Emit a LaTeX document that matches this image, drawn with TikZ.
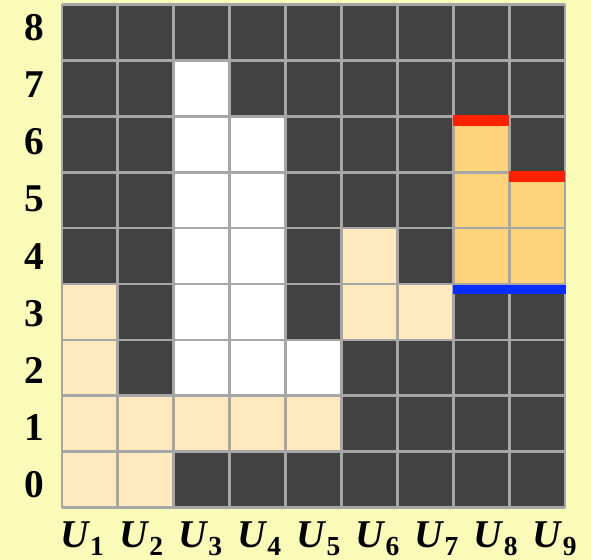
\documentclass[tikz,border=0pt]{standalone}
\usepackage{fontspec}
\setmainfont{Liberation Serif}
\definecolor{bgyellow}{HTML}{FAFAB9}
\definecolor{cellgray}{HTML}{424242}
\definecolor{gridline}{HTML}{A6A6A6}
\definecolor{cream}{HTML}{FFE9BF}
\definecolor{amber}{HTML}{FFD37B}
\definecolor{barred}{HTML}{FF2200}
\definecolor{barblue}{HTML}{0A2EFF}
\newcommand{\ulab}[1]{\textbf{\textit{U}}\raisebox{-4pt}{\fontsize{14}{16}\selectfont\bfseries #1}}
\tikzset{
  rowlabel/.style={font=\fontsize{20}{24}\selectfont\bfseries, inner sep=0pt},
  collabel/.style={font=\fontsize{20}{24}\selectfont, inner sep=0pt, anchor=base}
}

\begin{document}
\begin{tikzpicture}
  \fill[bgyellow] (-1.107,-0.93) rectangle (9.464,9.08);
  \useasboundingbox (-1.107,-0.93) rectangle (9.464,9.08);
  % cells
  \fill[cellgray] (0,0) rectangle (9,9);
  \foreach \c/\r in {2/2,2/3,2/4,2/5,2/6,2/7,3/2,3/3,3/4,3/5,3/6,4/2}
    \fill[white] (\c,\r) rectangle ++(1,1);
  \foreach \c/\r in {0/0,0/1,0/2,0/3,1/0,1/1,2/1,3/1,4/1,5/3,5/4,6/3}
    \fill[cream] (\c,\r) rectangle ++(1,1);
  \foreach \c/\r in {7/4,7/5,7/6,8/4,8/5}
    \fill[amber] (\c,\r) rectangle ++(1,1);
  \draw[gridline,line width=1.4pt] (0,0) grid (9,9);
  % bars
  \fill[barred] (7,6.83) rectangle (8,7.02);
  \fill[barred] (8,5.83) rectangle (9,6.02);
  \fill[barblue] (7,3.82) rectangle (9.02,3.98);
  % labels
  \foreach \r in {0,...,8}
    \node[rowlabel] (row\r) at (-0.5,0.41+1.0215*\r) {\r};
  \foreach \i in {1,...,9}
    \node[collabel] (col\i) at (0.36+1.057*\i-1.057,-0.71) {\ulab{\i}};
\end{tikzpicture}
\end{document}
